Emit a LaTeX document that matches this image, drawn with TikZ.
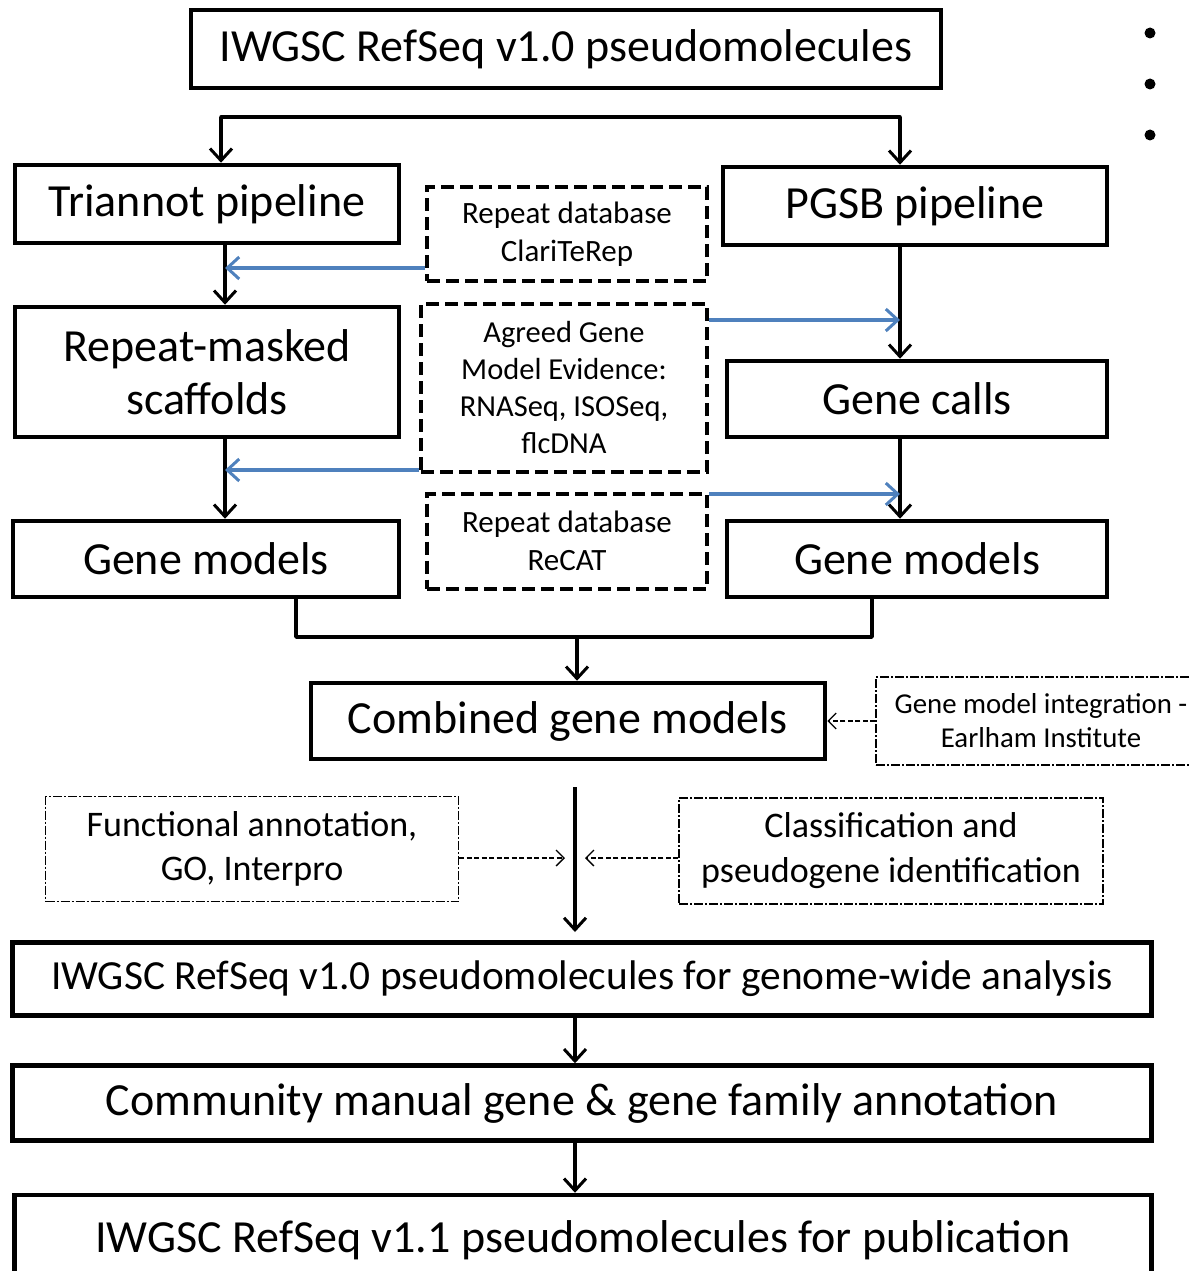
\documentclass[tikz,border=0pt]{standalone}
\usepackage{fontspec}
\setmainfont{Carlito}
\usetikzlibrary{arrows.meta}
\definecolor{bluearr}{RGB}{79,129,189}
\begin{document}
\begin{tikzpicture}[x=1pt,y=-1pt,
  box/.style={draw,line width=4.5pt,rectangle,inner sep=0pt,align=center},
  dbox/.style={draw,line width=4pt,dash pattern=on 13pt off 6pt,rectangle,inner sep=0pt,align=center},
  tbox/.style={draw,line width=1.1pt,dash pattern=on 9pt off 2pt on 2pt off 2pt,rectangle,inner sep=0pt,align=center},
  arr/.style={line width=3.5pt,-{Straight Barb[length=12pt,width=22pt,line width=3pt]}},
  barr/.style={bluearr,line width=3.5pt,-{Straight Barb[length=12pt,width=22pt,line width=3pt]}},
  darr/.style={line width=1.3pt,dash pattern=on 5pt off 2.5pt,-{Straight Barb[length=8pt,width=16pt,line width=1.3pt]}},
  big/.style={font=\fontsize{46}{52}\selectfont},
  mid/.style={font=\fontsize{31}{38}\selectfont},
]
\useasboundingbox (0,0) rectangle (1189,1271);
\clip (0,0) rectangle (1189,1271);

\node[box,big,minimum width=750pt,minimum height=78pt] (top) at (566,49) {IWGSC RefSeq v1.0 pseudomolecules};
\node[box,big,minimum width=384pt,minimum height=78pt] (tri) at (207,204) {Triannot pipeline};
\node[box,big,minimum width=384pt,minimum height=78pt] (pgsb) at (915,206) {PGSB pipeline};
\node[dbox,mid,minimum width=280pt,minimum height=94pt] (clari) at (567,234) {Repeat database\\ClariTeRep};
\node[box,minimum width=384pt,minimum height=130pt,font=\fontsize{46}{53}\selectfont] (rms) at (207,372) {Repeat-masked\\scaffolds};
\node[dbox,font=\fontsize{30.5}{37}\selectfont,minimum width=286pt,minimum height=168pt] (agreed) at (564,388) {Agreed Gene\\Model Evidence:\\RNASeq, ISOSeq,\\flcDNA};
\node[box,big,minimum width=380pt,minimum height=76pt] (calls) at (917,399) {Gene calls};
\node[box,big,minimum width=386pt,minimum height=76pt] (gml) at (206,559) {Gene models};
\node[dbox,mid,minimum width=280pt,minimum height=95pt] (recat) at (567,541) {Repeat database\\ReCAT};
\node[box,big,minimum width=380pt,minimum height=76pt] (gmr) at (917,559) {Gene models};
\node[box,big,minimum width=514pt,minimum height=76pt] (comb) at (568,721) {Combined gene models};
\node[tbox,font=\fontsize{28.8}{34}\selectfont,minimum width=330pt,minimum height=88pt] (earl) at (1041,721) {Gene model integration -\\Earlham Institute};
\node[tbox,font=\fontsize{36}{44}\selectfont,minimum width=413pt,minimum height=105pt] (func) at (252,849) {Functional annotation,\\GO, Interpro};
\node[tbox,font=\fontsize{36}{45}\selectfont,minimum width=424pt,minimum height=106pt] (class) at (891,851) {Classification and\\pseudogene identification};
\node[box,font=\fontsize{41.4}{46}\selectfont,minimum width=1139pt,minimum height=73pt] (ana) at (582,979) {IWGSC RefSeq v1.0 pseudomolecules for genome-wide analysis};
\node[box,font=\fontsize{46}{50}\selectfont,minimum width=1139pt,minimum height=75pt] (comm) at (582,1103) {Community manual gene \& gene family annotation};
\node[box,font=\fontsize{46}{50}\selectfont,minimum width=1137pt,minimum height=90pt] (pub) at (583,1240) {IWGSC RefSeq v1.1 pseudomolecules for publication};

% bullets
\foreach \yy/\nm in {33/b1,84/b2,135/b3} \fill (1150,\yy) circle (5.5pt) coordinate (\nm);

% top split
\coordinate (sl) at (221,117);
\coordinate (sr) at (900,117);
\draw[line width=3.5pt,line cap=round,line join=round] (sl) -- (sr);
\draw[arr] (sl) -- (sl |- tri.north);
\draw[arr] (sr) -- (sr |- pgsb.north);

% left column
\draw[arr] (225,0 |- tri.south) -- (225,0 |- rms.north);
\draw[arr] (225,0 |- rms.south) -- (225,0 |- gml.north);
\draw[barr] (clari.west |- 0,268) -- (225,268);
\draw[barr] (agreed.west |- 0,470) -- (225,470);

% right column
\draw[arr] (900,0 |- pgsb.south) -- (900,0 |- calls.north);
\draw[arr] (900,0 |- calls.south) -- (900,0 |- gmr.north);
\draw[barr] (agreed.east |- 0,320) -- (900,320);
\draw[barr] (recat.east |- 0,494) -- (900,494);

% merge
\coordinate (mm) at (577,637);
\draw[line width=3.5pt,line join=round] (296,0 |- gml.south) -- (296,637) -- (872,637) -- (872,0 |- gmr.south);
\draw[arr] (mm) -- (mm |- comb.north);
\draw[darr] (earl.west) -- (comb.east);

% main vertical
\coordinate (vtop) at (575,787);
\coordinate (vbot) at (575,932);
\draw[arr] (vtop) -- (vbot);
\draw[darr] (func.east |- 0,858) -- (565,858);
\draw[darr] (class.west |- 0,858) -- (585,858);

\draw[arr] (575,0 |- ana.south) -- (575,0 |- comm.north);
\draw[arr] (575,0 |- comm.south) -- (575,0 |- pub.north);
\end{tikzpicture}
\end{document}
